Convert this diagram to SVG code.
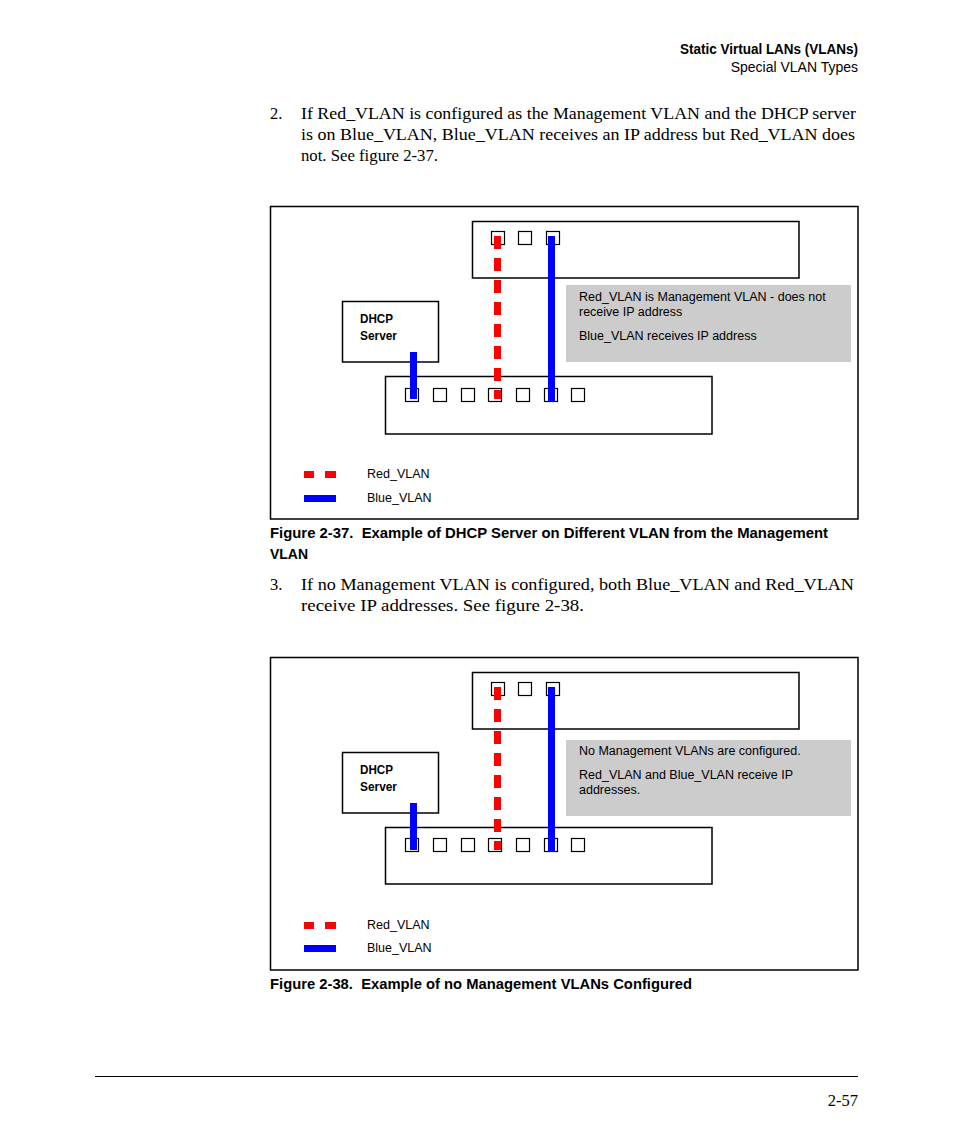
<svg xmlns="http://www.w3.org/2000/svg" width="954" height="1145" viewBox="0 0 954 1145">
<style>
.bg{fill:#fff}
.box{fill:#fff;stroke:#000;stroke-width:1.5}
.port{fill:none;stroke:#000;stroke-width:1.2}
.note{fill:#cccccc}
.red{stroke:#ff0000;stroke-width:7;stroke-dasharray:13 9;fill:none}
.blue{stroke:#0000ff;stroke-width:7;fill:none}
.sans{font-family:"Liberation Sans Narrow","Liberation Sans",Arial,sans-serif;fill:#000}
.nt{font-size:12.5px}
.lbl{font-size:12.5px;font-weight:bold}
.serif{font-family:"Liberation Serif","Times New Roman",serif;font-size:16.5px;fill:#000}
.cap{font-family:"Liberation Sans Narrow","Liberation Sans",Arial,sans-serif;font-size:15.5px;font-weight:bold;fill:#000}
</style>
<rect class="bg" x="0" y="0" width="954" height="1145"/>
<g id="header">
<text class="sans" x="680" y="54" textLength="178" lengthAdjust="spacingAndGlyphs" font-size="14" font-weight="bold">Static Virtual LANs (VLANs)</text>
<text class="sans" x="858" y="72" text-anchor="end" font-size="14">Special VLAN Types</text>
</g>
<g id="para2">
<text class="serif" x="270" y="119">2.</text>
<text class="serif" x="301" y="119" textLength="555" lengthAdjust="spacingAndGlyphs">If Red_VLAN is configured as the Management VLAN and the DHCP server</text>
<text class="serif" x="301" y="140" textLength="554" lengthAdjust="spacingAndGlyphs">is on Blue_VLAN, Blue_VLAN receives an IP address but Red_VLAN does</text>
<text class="serif" x="301" y="161" textLength="137" lengthAdjust="spacingAndGlyphs">not. See figure 2-37.</text>
</g>
<!-- Figure 2-37 -->
<g id="fig37">
<rect class="box" x="270.5" y="206.5" width="587.5" height="312.5"/>
<g id="fig37-switch-top">
<rect class="box" x="472.5" y="221.5" width="326.5" height="56.5"/>
<rect class="port" x="491.5" y="231.5" width="13" height="13"/>
<rect class="port" x="518.5" y="231.5" width="13" height="13"/>
<rect class="port" x="546.5" y="231.5" width="13" height="13"/>
</g>
<g id="fig37-dhcp">
<rect class="box" x="342.5" y="301.5" width="96" height="60.5"/>
<text class="sans lbl" x="360" y="323" textLength="33" lengthAdjust="spacingAndGlyphs">DHCP</text>
<text class="sans lbl" x="360" y="340" textLength="37" lengthAdjust="spacingAndGlyphs">Server</text>
</g>
<g id="fig37-note">
<rect class="note" x="566" y="285" width="285" height="77"/>
<text class="sans nt" x="579" y="301">Red_VLAN is Management VLAN - does not</text>
<text class="sans nt" x="579" y="316">receive IP address</text>
<text class="sans nt" x="579" y="340">Blue_VLAN receives IP address</text>
</g>
<g id="fig37-switch-bottom">
<rect class="box" x="385.5" y="376.5" width="326.5" height="57.5"/>
<rect class="port" x="405.5" y="388.5" width="13" height="13"/>
<rect class="port" x="433.5" y="388.5" width="13" height="13"/>
<rect class="port" x="461.5" y="388.5" width="13" height="13"/>
<rect class="port" x="488.5" y="388.5" width="13" height="13"/>
<rect class="port" x="516.5" y="388.5" width="13" height="13"/>
<rect class="port" x="544.5" y="388.5" width="13" height="13"/>
<rect class="port" x="571.5" y="388.5" width="13" height="13"/>
</g>
<g id="fig37-connectors">
<line class="red" x1="497.5" y1="236" x2="497.5" y2="399"/>
<line class="blue" x1="551.5" y1="236" x2="551.5" y2="402"/>
<line class="blue" x1="413.5" y1="352" x2="413.5" y2="399"/>
</g>
<g id="fig37-legend">
<rect x="304" y="471" width="10" height="7" fill="#ff0000"/>
<rect x="325" y="471" width="11" height="7" fill="#ff0000"/>
<rect x="304" y="495" width="32" height="7" fill="#0000ff"/>
<text class="sans nt" x="367" y="478">Red_VLAN</text>
<text class="sans nt" x="367" y="502">Blue_VLAN</text>
</g>
</g>
<g id="caption37">
<text class="cap" x="270" y="538" textLength="558" lengthAdjust="spacingAndGlyphs" xml:space="preserve">Figure 2-37.  Example of DHCP Server on Different VLAN from the Management</text>
<text class="cap" x="270" y="559" textLength="38" lengthAdjust="spacingAndGlyphs">VLAN</text>
</g>
<g id="para3">
<text class="serif" x="270" y="590">3.</text>
<text class="serif" x="301" y="590" textLength="553" lengthAdjust="spacingAndGlyphs">If no Management VLAN is configured, both Blue_VLAN and Red_VLAN</text>
<text class="serif" x="301" y="611" textLength="283" lengthAdjust="spacingAndGlyphs">receive IP addresses. See figure 2-38.</text>
</g>
<!-- Figure 2-38 -->
<g id="fig38">
<rect class="box" x="270.5" y="657.5" width="587.5" height="312.5"/>
<g id="fig38-switch-top">
<rect class="box" x="472.5" y="672.5" width="326.5" height="56.5"/>
<rect class="port" x="491.5" y="682.5" width="13" height="13"/>
<rect class="port" x="518.5" y="682.5" width="13" height="13"/>
<rect class="port" x="546.5" y="682.5" width="13" height="13"/>
</g>
<g id="fig38-dhcp">
<rect class="box" x="342.5" y="752.5" width="96" height="60.5"/>
<text class="sans lbl" x="360" y="774" textLength="33" lengthAdjust="spacingAndGlyphs">DHCP</text>
<text class="sans lbl" x="360" y="791" textLength="37" lengthAdjust="spacingAndGlyphs">Server</text>
</g>
<g id="fig38-note">
<rect class="note" x="566" y="740" width="285" height="76"/>
<text class="sans nt" x="579" y="755">No Management VLANs are configured.</text>
<text class="sans nt" x="579" y="779">Red_VLAN and Blue_VLAN receive IP</text>
<text class="sans nt" x="579" y="794">addresses.</text>
</g>
<g id="fig38-switch-bottom">
<rect class="box" x="385.5" y="827.5" width="326.5" height="56.5"/>
<rect class="port" x="405.5" y="838.5" width="13" height="13"/>
<rect class="port" x="433.5" y="838.5" width="13" height="13"/>
<rect class="port" x="461.5" y="838.5" width="13" height="13"/>
<rect class="port" x="488.5" y="838.5" width="13" height="13"/>
<rect class="port" x="516.5" y="838.5" width="13" height="13"/>
<rect class="port" x="544.5" y="838.5" width="13" height="13"/>
<rect class="port" x="571.5" y="838.5" width="13" height="13"/>
</g>
<g id="fig38-connectors">
<line class="red" x1="497.5" y1="687" x2="497.5" y2="850"/>
<line class="blue" x1="551.5" y1="687" x2="551.5" y2="852"/>
<line class="blue" x1="413.5" y1="803" x2="413.5" y2="850"/>
</g>
<g id="fig38-legend">
<rect x="304" y="922" width="10" height="7" fill="#ff0000"/>
<rect x="325" y="922" width="11" height="7" fill="#ff0000"/>
<rect x="304" y="945" width="32" height="7" fill="#0000ff"/>
<text class="sans nt" x="367" y="929">Red_VLAN</text>
<text class="sans nt" x="367" y="952">Blue_VLAN</text>
</g>
</g>
<g id="caption38">
<text class="cap" x="270" y="989" textLength="422" lengthAdjust="spacingAndGlyphs" xml:space="preserve">Figure 2-38.  Example of no Management VLANs Configured</text>
</g>
<g id="footer">
<line x1="95" y1="1076.5" x2="858" y2="1076.5" stroke="#000" stroke-width="1"/>
<text class="serif" x="858" y="1106" text-anchor="end">2-57</text>
</g>
</svg>
